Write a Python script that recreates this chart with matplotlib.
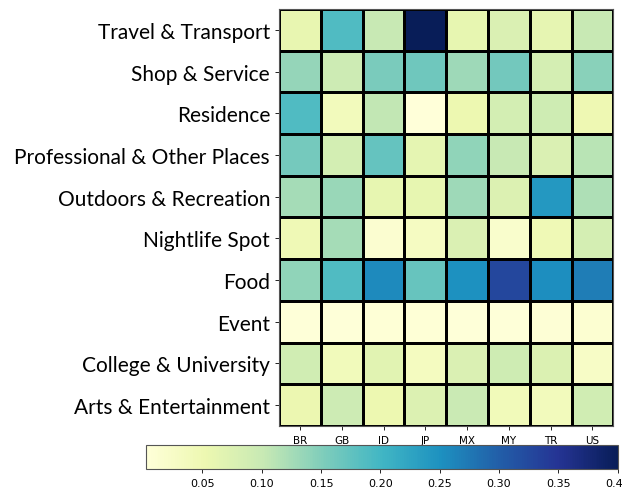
import numpy as np
import matplotlib
matplotlib.use("Agg")
import matplotlib.pyplot as plt
from matplotlib.ticker import FormatStrFormatter

countries = ["BR", "GB", "ID", "JP", "MX", "MY", "TR", "US"]

# categories listed bottom to top
categories = ["Arts & Entertainment", "College & University", "Event", "Food",
              "Nightlife Spot", "Outdoors & Recreation", "Professional & Other Places",
              "Residence", "Shop & Service", "Travel & Transport"]

arts = [0.054, 0.095, 0.053, 0.074, 0.097, 0.042, 0.039, 0.090]
college = [0.090, 0.040, 0.068, 0.034, 0.078, 0.093, 0.076, 0.026]
event = [0.005, 0.004, 0.006, 0.006, 0.004, 0.005, 0.007, 0.012]
food = [0.140, 0.190, 0.257, 0.170, 0.250, 0.328, 0.253, 0.270]
nightlife = [0.046, 0.125, 0.014, 0.030, 0.078, 0.018, 0.046, 0.085]
outdoors = [0.125, 0.133, 0.060, 0.060, 0.130, 0.074, 0.240, 0.120]
professional = [0.160, 0.087, 0.173, 0.064, 0.140, 0.100, 0.077, 0.112]
residence = [0.190, 0.038, 0.105, 0.002, 0.052, 0.086, 0.093, 0.050]
shop = [0.137, 0.094, 0.155, 0.165, 0.130, 0.162, 0.085, 0.145]
travel = [0.058, 0.190, 0.100, 0.400, 0.060, 0.078, 0.062, 0.100]

data = np.array([arts, college, event, food, nightlife, outdoors,
                 professional, residence, shop, travel])

fig = plt.figure(figsize=(6.22, 4.89), dpi=100)
ax = fig.add_axes([0.4486, 0.1268, 0.5375, 0.8528])
cax = fig.add_axes([0.234, 0.038, 0.759, 0.049])

mesh = ax.pcolormesh(data, cmap="YlGnBu", vmin=0.002, vmax=0.40,
                     edgecolors="black", linewidth=0.75)
ax.set_xlim(0, len(countries))
ax.set_ylim(0, len(categories))

ax.set_xticks(np.arange(len(countries)) + 0.5)
ax.set_xticklabels(countries, fontsize=7.5)
ax.set_yticks(np.arange(len(categories)) + 0.5)
ax.set_yticklabels(categories, fontsize=15, family="Lato")
ax.tick_params(axis="both", length=3, width=0.6)
for sp in ax.spines.values():
    sp.set_color("#555555")
    sp.set_linewidth(0.8)

cb = fig.colorbar(mesh, cax=cax, orientation="horizontal")
cb.set_ticks([0.05, 0.10, 0.15, 0.20, 0.25, 0.30, 0.35, 0.40])
cb.ax.xaxis.set_major_formatter(FormatStrFormatter("%.2f"))
cb.ax.tick_params(labelsize=8, length=3, width=0.6)
cb.outline.set_edgecolor("#555555")
cb.outline.set_linewidth(0.8)

fig.savefig("out.png", dpi=100)
